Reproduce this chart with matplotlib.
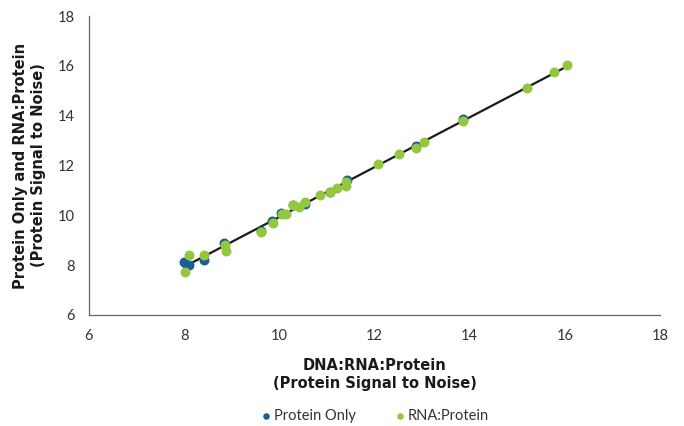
import numpy as np
import matplotlib.pyplot as plt

# values
protein_only_x = [8.00, 8.10, 8.42, 8.83, 9.61, 9.85, 10.03, 10.29, 10.53, 11.06, 11.43, 12.88, 13.86]
protein_only_y = [8.12, 8.00, 8.20, 8.88, 9.35, 9.77, 10.10, 10.42, 10.44, 10.92, 11.42, 12.78, 13.85]

rna_protein_x = [8.01, 8.10, 8.42, 8.85, 8.87, 9.61, 9.87, 10.05, 10.15, 10.29, 10.41, 10.53,
                 10.85, 11.06, 11.22, 11.41, 11.41, 12.08, 12.51, 12.88, 13.03, 13.86,
                 15.20, 15.77, 16.05]
rna_protein_y = [7.72, 8.41, 8.40, 8.80, 8.57, 9.33, 9.68, 10.07, 10.04, 10.40, 10.35, 10.52,
                 10.82, 10.94, 11.09, 11.35, 11.18, 12.05, 12.46, 12.72, 12.95, 13.80,
                 15.10, 15.75, 16.05]

blue = '#1b5e97'
green = '#93c83e'
grey = '#333333'

fig = plt.figure(figsize=(6.84, 4.26), dpi=100)
ax = fig.add_axes([0.130, 0.261, 0.835, 0.701])

ax.scatter(protein_only_x, protein_only_y, s=38, color=blue, zorder=3, label='Protein Only')
ax.scatter(rna_protein_x, rna_protein_y, s=38, color=green, zorder=4, label='RNA:Protein')

# trend line through all points
all_x = np.array(protein_only_x + rna_protein_x)
all_y = np.array(protein_only_y + rna_protein_y)
slope, intercept = np.polyfit(all_x, all_y, 1)
xs = np.array([all_x.min(), all_x.max()])
ax.plot(xs, intercept + slope * xs, color='#1a1a1a', lw=1.6, zorder=2)

ax.set_xlim(6, 18)
ax.set_ylim(6, 18)
ax.set_xticks(range(6, 19, 2))
ax.set_yticks(range(6, 19, 2))
ax.tick_params(length=0, pad=10, labelsize=10.5, labelcolor=grey)
for lab in ax.get_xticklabels() + ax.get_yticklabels():
    lab.set_family('Lato')

for side in ['top', 'right']:
    ax.spines[side].set_visible(False)
for side in ['left', 'bottom']:
    ax.spines[side].set_color('#666666')
    ax.spines[side].set_linewidth(0.9)

ax.set_xlabel('DNA:RNA:Protein\n(Protein Signal to Noise)', family='DejaVu Sans',
              fontweight='bold', fontsize=10.5, color='#1a1a1a', labelpad=11, linespacing=1.25)
ax.set_ylabel('Protein Only and RNA:Protein\n(Protein Signal to Noise)', family='DejaVu Sans',
              fontweight='bold', fontsize=10.5, color='#1a1a1a', labelpad=9, linespacing=1.25)

leg = ax.legend(loc='upper center', bbox_to_anchor=(0.50, -0.27), ncol=2, frameon=False,
                markerscale=0.6, handlelength=0.8, handletextpad=0.15, columnspacing=2.6,
                prop={'family': 'Lato', 'size': 10.5})
for t in leg.get_texts():
    t.set_color(grey)

fig.savefig('out.png', dpi=100)
